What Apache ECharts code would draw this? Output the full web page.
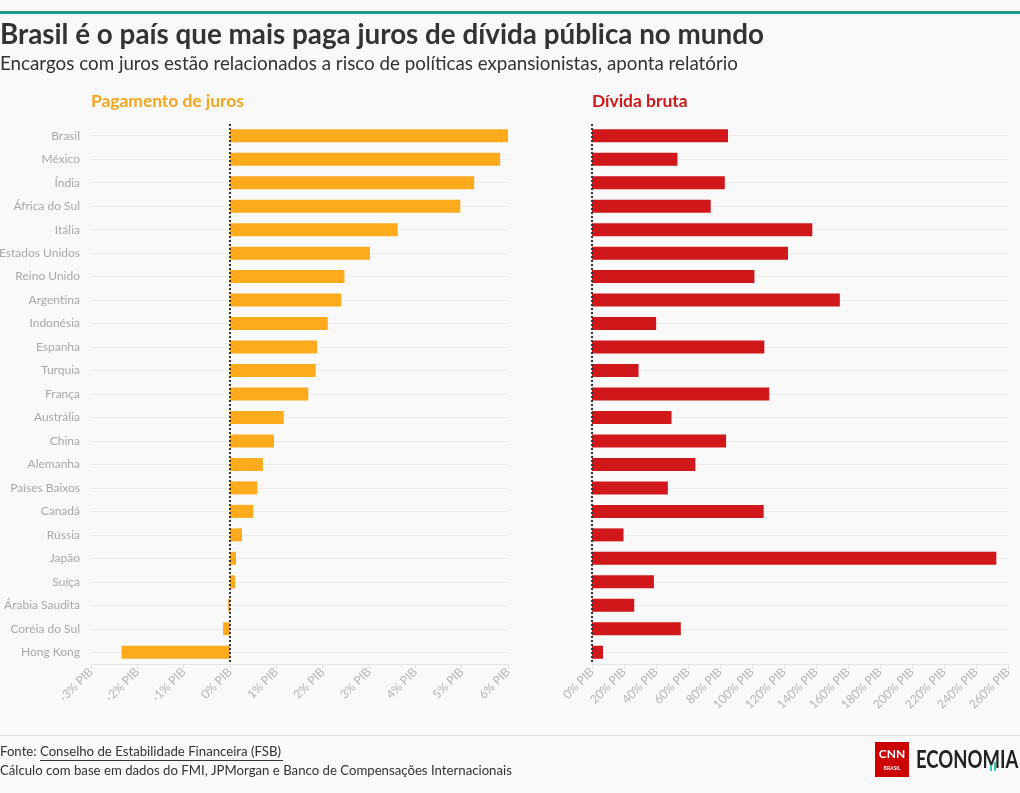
<!DOCTYPE html>
<html><head><meta charset="utf-8">
<script src="https://cdn.jsdelivr.net/npm/echarts@6/dist/echarts.min.js"></script>
<style>html,body{margin:0;padding:0;background:#f9f9f9}#c{width:1020px;height:793px}</style>
</head><body><div id="c"></div>
<script>
const countries = ['Brasil','México','Índia','África do Sul','Itália','Estados Unidos','Reino Unido','Argentina','Indonésia','Espanha','Turquia','França','Austrália','China','Alemanha','Países Baixos','Canadá','Rússia','Japão','Suíça','Árabia Saudita','Coréia do Sul','Hong Kong'];
const juros = [6.0,5.83,5.27,4.97,3.62,3.02,2.47,2.40,2.11,1.88,1.85,1.69,1.16,0.95,0.71,0.59,0.50,0.26,0.13,0.11,-0.04,-0.15,-2.34];
const divida = [85.0,53.4,83.0,74.2,137.7,122.5,101.5,154.9,40.1,107.7,29.1,110.8,49.7,83.8,64.6,47.4,107.3,19.7,252.7,38.7,26.4,55.5,6.9];
const jurosTicks = [-3,-2,-1,0,1,2,3,4,5,6];
const dividaTicks = [0,20,40,60,80,100,120,140,160,180,200,220,240,260];

const FONT = "'Source Sans Pro', Lato, 'Open Sans', sans-serif";
const chart = echarts.init(document.getElementById('c'));
function xAxisCfg(idx, ticks){
  return {
    type:'value', gridIndex:idx, min:ticks[0], max:ticks[ticks.length-1], interval:ticks[1]-ticks[0],
    axisLine:{show:true, lineStyle:{color:'#e4e4e4'}},
    axisTick:{show:true, length:5, lineStyle:{color:'#e0e0e0'}},
    splitLine:{show:false},
    axisLabel:{rotate:45, color:'#b5b5b5', fontSize:12, fontFamily:FONT, margin:6,
      formatter: v => v + '% PIB'}
  };
}
function yAxisCfg(idx, showLabels){
  return {
    type:'category', gridIndex:idx, data:countries, inverse:true,
    axisLine:{show:true, lineStyle:{color:'#eeeeee'}},
    axisTick:{show:false},
    splitLine:{show:false},
    axisLabel:{show:showLabels, color:'#a8a8a8', fontSize:12, fontFamily:FONT, margin:11}
  };
}
function guideSeries(idx){
  return {type:'line', xAxisIndex:idx, yAxisIndex:idx, data:[], z:1, silent:true,
    markLine:{silent:true, symbol:'none', label:{show:false}, animation:false, z:1,
      data:countries.map(c => ({yAxis:c, lineStyle:{color:'#ebebeb', width:1, type:'solid'}}))}};
}
function zeroSeries(idx){
  return {type:'line', xAxisIndex:idx, yAxisIndex:idx, data:[], z:5, silent:true,
    markLine:{silent:true, symbol:'none', label:{show:false}, animation:false, z:6,
      data:[{xAxis:0, lineStyle:{color:'#333', width:2, type:'dotted'}}]}};
}
chart.setOption({
  backgroundColor:'#f9f9f9',
  animation:false,
  grid:[
    {left:91, right:512, top:124, bottom:129, outerBoundsMode:'none', containLabel:false},
    {left:592, right:12, top:124, bottom:129, outerBoundsMode:'none', containLabel:false}
  ],
  xAxis:[xAxisCfg(0, jurosTicks), xAxisCfg(1, dividaTicks)],
  yAxis:[yAxisCfg(0, true), yAxisCfg(1, false)],
  series:[
    guideSeries(0), guideSeries(1),
    {type:'bar', xAxisIndex:0, yAxisIndex:0, data:juros, barWidth:13, z:3,
     itemStyle:{color:'#fdaa1c'}},
    {type:'bar', xAxisIndex:1, yAxisIndex:1, data:divida, barWidth:13, z:3,
     itemStyle:{color:'#d0181a'}},
    zeroSeries(0), zeroSeries(1)
  ],
  graphic:[
    {type:'rect', shape:{x:0,y:11,width:1020,height:3}, style:{fill:'#1a9a80'}},
    {type:'text', left:0, top:21, style:{text:'Brasil é o país que mais paga juros de dívida pública no mundo', font:"bold 27.8px "+FONT, fill:'#333'}},
    {type:'text', left:0, top:54, style:{text:'Encargos com juros estão relacionados a risco de políticas expansionistas, aponta relatório', font:"18.8px "+FONT, fill:'#333'}},
    {type:'text', left:91, top:93, style:{text:'Pagamento de juros', font:"bold 17.4px "+FONT, fill:'#f7a51c'}},
    {type:'text', left:592, top:93, style:{text:'Dívida bruta', font:"bold 17.4px "+FONT, fill:'#d0181a'}},
    {type:'rect', shape:{x:0,y:735,width:1020,height:1}, style:{fill:'#dddddd'}},
    {type:'text', left:0, top:745, style:{text:'Fonte: Conselho de Estabilidade Financeira (FSB)', font:"13.2px "+FONT, fill:'#333'}},
    {type:'rect', shape:{x:40,y:760,width:243,height:1}, style:{fill:'#333'}},
    {type:'text', left:0, top:764, style:{text:'Cálculo com base em dados do FMI, JPMorgan e Banco de Compensações Internacionais', font:"13.2px "+FONT, fill:'#333'}},
    {type:'rect', shape:{x:875,y:742,width:34,height:35}, style:{fill:'#cc0000'}},
    {type:'text', x:892, y:754, style:{text:'CNN', font:"bold 12px "+FONT, fill:'#fff', align:'center', verticalAlign:'middle'}},
    {type:'text', x:892, y:768, style:{text:'BRASIL', font:"bold 5px "+FONT, fill:'#fff', align:'center', verticalAlign:'middle'}},
    {type:'text', x:916, y:760, scaleX:0.74, style:{text:'ECONOMIA', font:"bold 25px "+FONT, fill:'#222', verticalAlign:'middle'}},
    {type:'rect', shape:{x:990,y:765,width:2,height:6}, style:{fill:'#3cc6b0'}},
    {type:'rect', shape:{x:994,y:762,width:2,height:9}, style:{fill:'#3cc6b0'}}
  ]
});
</script></body></html>
